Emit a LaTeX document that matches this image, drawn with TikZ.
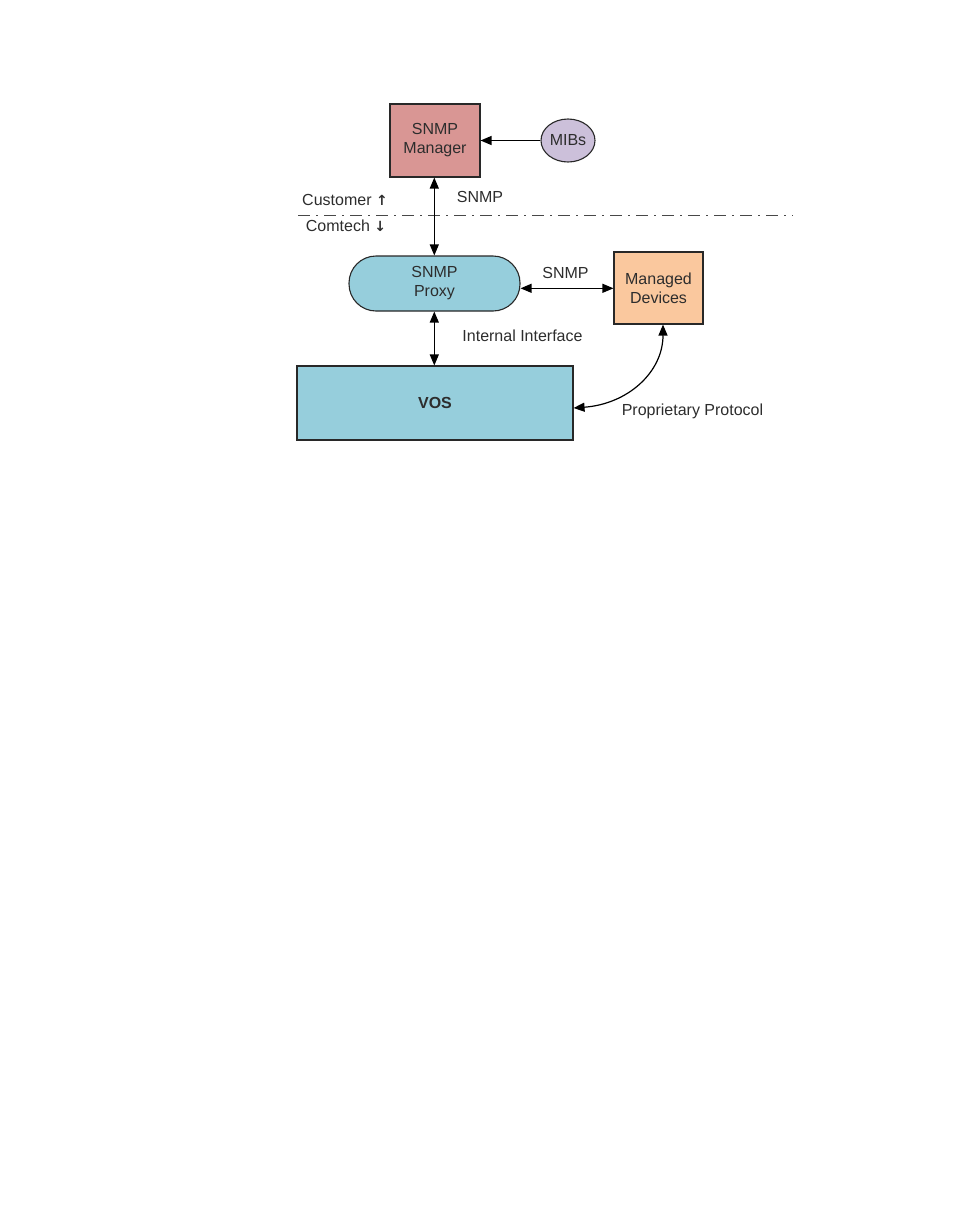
\documentclass[tikz,border=0pt]{standalone}
\usepackage{fontspec}
\setmainfont{Liberation Sans}
\usetikzlibrary{shapes.geometric,arrows.meta}
\definecolor{mgr}{RGB}{217,150,148}
\definecolor{mib}{RGB}{204,192,218}
\definecolor{prx}{RGB}{150,206,220}
\definecolor{dev}{RGB}{250,200,158}
\definecolor{ink}{RGB}{40,40,40}
\definecolor{txt}{RGB}{45,45,45}
\newfontfamily\symfont{DejaVu Sans}
\tikzset{
  boxnode/.style={draw=ink, line width=1.1pt, inner sep=0pt, align=center, text=txt,
    font=\fontsize{16}{19}\selectfont},
  lbl/.style={inner sep=0pt, text=txt, font=\fontsize{16}{19}\selectfont},
  conn/.style={draw=black, line width=1.2pt, {Triangle[length=11pt,width=9pt]}-{Triangle[length=11pt,width=9pt]}},
  oneway/.style={draw=black, line width=1.2pt, -{Triangle[length=11pt,width=9pt]}},
  divider/.style={draw=ink!85, line width=1.8pt, dash pattern=on 12pt off 6pt on 1.5pt off 6.5pt}
}
\begin{document}
\begin{tikzpicture}[x=1pt,y=-1pt]
\useasboundingbox (0,0) rectangle (954,1227);
\fill[white] (0,0) rectangle (954,1227);
% nodes
\node[boxnode, fill=mgr, minimum width=90pt, minimum height=73pt] (mgr) at (435,140.5) {SNMP\\Manager};
\node[boxnode, ellipse, fill=mib, minimum width=54pt, minimum height=43pt] (mib) at (568,140.5) {MIBs};
\node[boxnode, rounded corners=27pt, fill=prx, minimum width=171pt, minimum height=55pt] (prx) at (434.5,283.5) {SNMP\\Proxy};
\node[boxnode, fill=dev, minimum width=89pt, minimum height=72pt] (dev) at (658.5,288) {Managed\\Devices};
\node[boxnode, fill=prx, minimum width=276pt, minimum height=74pt, font=\fontsize{16}{19}\selectfont\bfseries] (vos) at (435,403) {VOS};
% divider
\coordinate (dl) at (298,215.5);
\coordinate (dr) at (793,215.5);
\draw[divider] (dl) -- (dr);
% labels
\node[lbl] (c1) at (345,200) {Customer {\symfont\fontsize{14}{16}\selectfont\textbf{↑}}};
\node[lbl] (c2) at (346,225.5) {Comtech {\symfont\fontsize{14}{16}\selectfont\textbf{↓}}};
\node[lbl] (l1) at (480,197) {SNMP};
\node[lbl] (l2) at (565.5,273) {SNMP};
\node[lbl] (l3) at (522.5,336) {Internal Interface};
\node[lbl] (l4) at (692.5,411) {Proprietary Protocol};
% connectors
\draw[oneway] (mib.west) -- (mgr.east |- mib.west);
\draw[conn] (mgr.south -| 434.3,0) -- (prx.north -| 434.3,0);
\draw[conn] (prx.east |- 0,288.3) -- (dev.west |- 0,288.3);
\draw[conn] (prx.south -| 434.3,0) -- (vos.north -| 434.3,0);
\coordinate (va) at (573,408);
\coordinate (da) at (663,324);
\draw[conn] (vos.east |- va) .. controls (628,404) and (663,372) .. (dev.south -| da);
\end{tikzpicture}
\end{document}
